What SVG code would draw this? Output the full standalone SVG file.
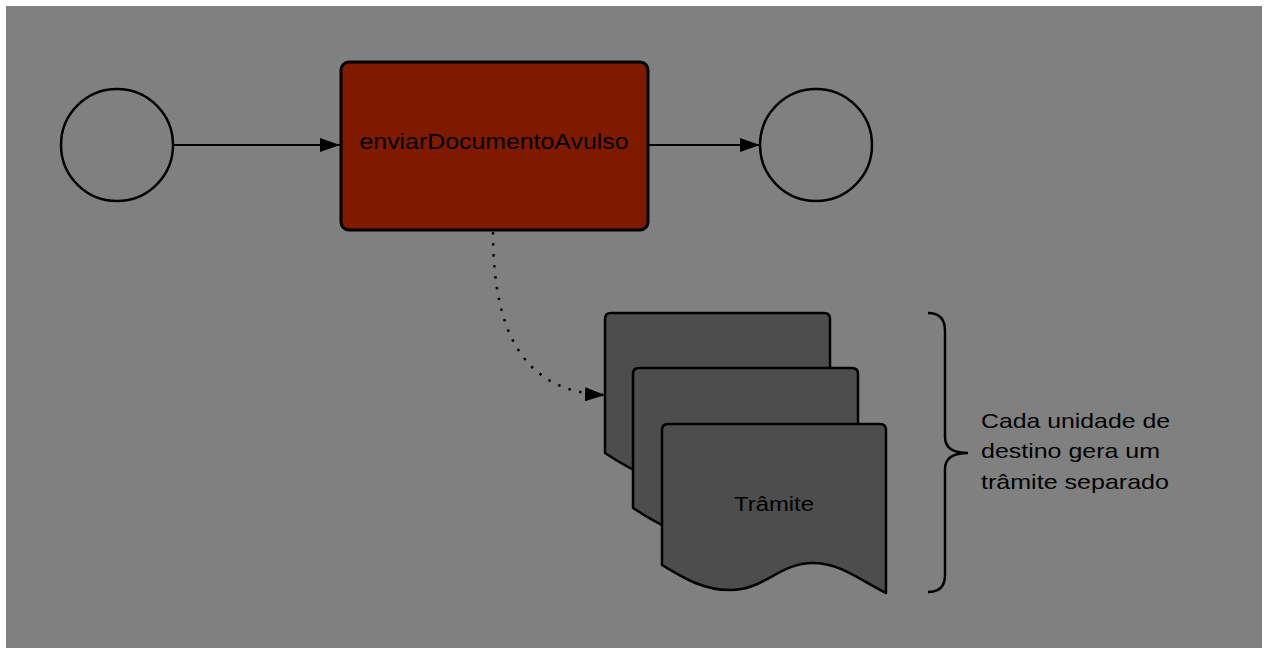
<svg xmlns="http://www.w3.org/2000/svg" width="1266" height="654" viewBox="0 0 1266 654">
<defs>
<style>
.ev{fill:none;stroke:#000;stroke-width:2.5}
.task{fill:#7f1900;stroke:#000;stroke-width:3}
.doc{fill:#4d4d4d;stroke:#000;stroke-width:2.5;stroke-linejoin:round}
.edge{fill:none;stroke:#000;stroke-width:2}
.brace{fill:none;stroke:#000;stroke-width:2.5}
.dot{fill:none;stroke:#000;stroke-width:2.5;stroke-dasharray:2.5 8.5}
.lbl{font-family:"Liberation Sans",Arial,sans-serif;fill:#000}
</style>
<marker id="arr" viewBox="0 0 20 14" refX="20" refY="7" markerWidth="20" markerHeight="14" markerUnits="userSpaceOnUse" orient="auto">
<path d="M0,0 L20,7 L0,14 Z" fill="#000"/>
</marker>
</defs>
<rect x="0" y="0" width="1266" height="654" fill="#fff"/>
<rect x="6" y="6" width="1256" height="642" fill="#808080"/>
<g id="connectors">
<path class="edge" d="M174,145 H340" marker-end="url(#arr)"/>
<path class="edge" d="M648,145 H760" marker-end="url(#arr)"/>
<path class="dot" d="M493,232 C493,335 525,392 605,395" marker-end="url(#arr)"/>
</g>
<g id="start">
<circle class="ev" cx="117" cy="145" r="56"/>
</g>
<g id="task">
<rect class="task" x="341" y="62" width="307" height="168" rx="8"/>
<text class="lbl" x="494" y="149" font-size="22" text-anchor="middle" textLength="269" lengthAdjust="spacingAndGlyphs">enviarDocumentoAvulso</text>
</g>
<g id="end">
<circle class="ev" cx="816" cy="145" r="56"/>
</g>
<g id="tramites">
<path class="doc" d="M611,313 H824 Q830,313 830,319 V482 C805,470 785,452 756,452 C722,452 708,479 673,479 C645,479 625,466 605,453 V319 Q605,313 611,313 Z"/>
<path class="doc" d="M639,368 H852 Q858,368 858,374 V537 C833,525 813,507 784,507 C750,507 736,534 701,534 C673,534 653,521 633,508 V374 Q633,368 639,368 Z"/>
<path class="doc" d="M668,424 H880 Q886,424 886,430 V593 C861,581 841,563 813,563 C779,563 765,590 730,590 C702,590 682,577 662,565 V430 Q662,424 668,424 Z"/>
<text class="lbl" x="774" y="511" font-size="20" text-anchor="middle" textLength="80" lengthAdjust="spacingAndGlyphs">Trâmite</text>
</g>
<g id="annotation">
<path class="brace" d="M928,313 Q945,313 945,331 V437 Q945,453 968,453 Q945,453 945,469 V575 Q945,592 928,592"/>
<text class="lbl" font-size="21">
<tspan x="981" y="428" textLength="189" lengthAdjust="spacingAndGlyphs">Cada unidade de</tspan>
<tspan x="981" y="458" textLength="179" lengthAdjust="spacingAndGlyphs">destino gera um</tspan>
<tspan x="981" y="489" textLength="188" lengthAdjust="spacingAndGlyphs">trâmite separado</tspan>
</text>
</g>
</svg>
